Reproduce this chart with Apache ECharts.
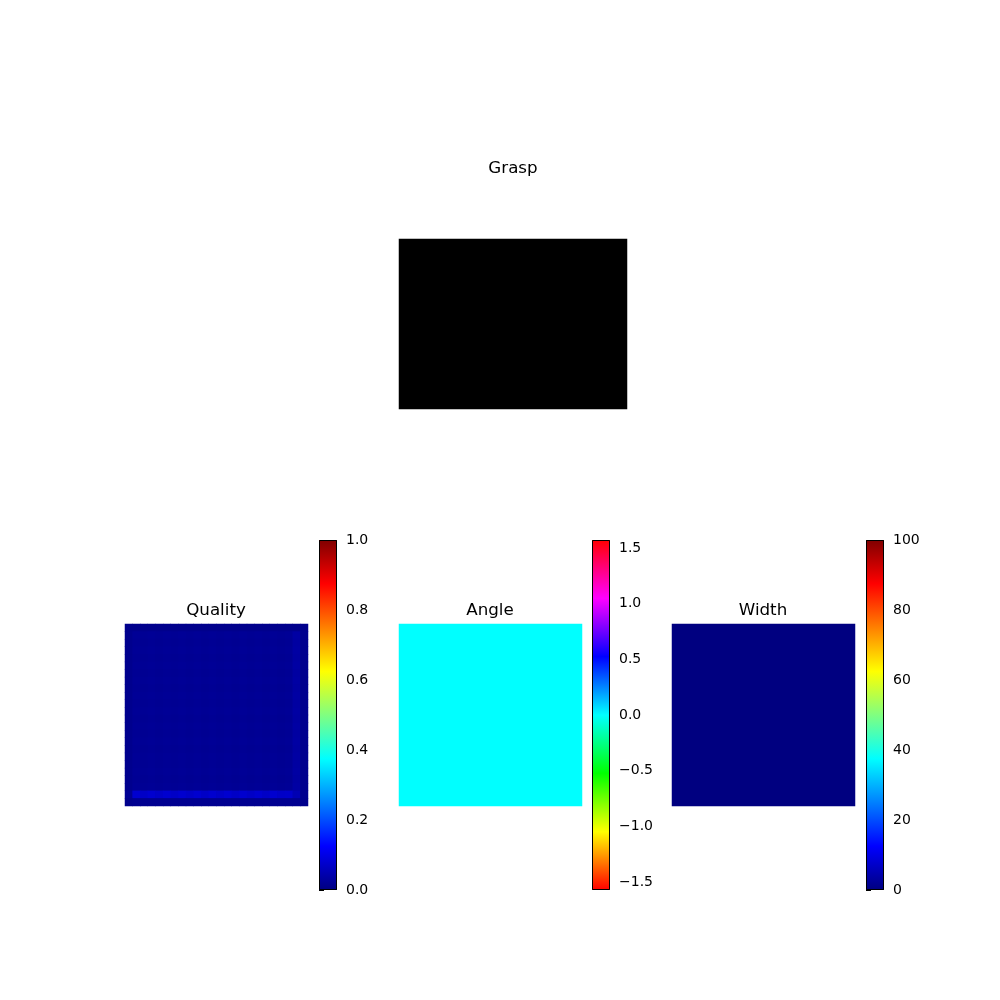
<!DOCTYPE html>
<html>
<head>
<meta charset="utf-8">
<script src="https://cdn.jsdelivr.net/npm/echarts@6/dist/echarts.min.js"></script>
<style>
  html, body { margin: 0; padding: 0; background: #fff; }
  #main { width: 1000px; height: 1000px; }
</style>
</head>
<body>
<div id="main"></div>
<script>
// panel titles
var titles = ['Grasp', 'Quality', 'Angle', 'Width'];

// grasp image (all black)
var graspGrid = [
  [0]
];

// quality map rows (24 x 24), mostly near zero with a faint brighter line near the bottom
var qTop = [0.012, 0.012, 0.012, 0.012, 0.012, 0.012, 0.012, 0.012, 0.012, 0.012, 0.012, 0.012, 0.012, 0.012, 0.012, 0.012, 0.012, 0.012, 0.012, 0.012, 0.012, 0.012, 0.012, 0.012];
var qRow = [0.014, 0.022, 0.020, 0.022, 0.020, 0.022, 0.020, 0.022, 0.020, 0.022, 0.020, 0.022, 0.020, 0.022, 0.020, 0.022, 0.020, 0.022, 0.020, 0.022, 0.020, 0.022, 0.034, 0.014];
var qRowB = [0.014, 0.020, 0.018, 0.020, 0.018, 0.020, 0.018, 0.020, 0.018, 0.020, 0.018, 0.020, 0.018, 0.020, 0.018, 0.020, 0.018, 0.020, 0.018, 0.020, 0.018, 0.020, 0.032, 0.014];
var qLine = [0.020, 0.078, 0.070, 0.078, 0.070, 0.078, 0.070, 0.078, 0.070, 0.078, 0.070, 0.078, 0.070, 0.078, 0.070, 0.078, 0.070, 0.078, 0.070, 0.078, 0.070, 0.072, 0.050, 0.014];
var qBottom = [0.012, 0.016, 0.016, 0.016, 0.016, 0.016, 0.016, 0.016, 0.016, 0.016, 0.016, 0.016, 0.016, 0.016, 0.016, 0.016, 0.016, 0.016, 0.016, 0.016, 0.016, 0.016, 0.016, 0.012];
var qualityGrid = [
  qTop, qRow, qRowB, qRow, qRowB, qRow, qRowB, qRow, qRowB, qRow, qRowB, qRow,
  qRowB, qRow, qRowB, qRow, qRowB, qRow, qRowB, qRow, qRowB, qRow, qLine, qBottom
];

// angle map (all zero -> cyan)
var angleGrid = [
  [0]
];

// width map (all zero -> navy)
var widthGrid = [
  [0]
];

// colorbar ranges and ticks
var qualityRange = [0, 1];
var qualityTicks = [0, 0.2, 0.4, 0.6, 0.8, 1.0];
var angleRange = [-Math.PI / 2, Math.PI / 2];
var angleTicks = [-1.5, -1.0, -0.5, 0.0, 0.5, 1.0, 1.5];
var widthRange = [0, 100];
var widthTicks = [0, 20, 40, 60, 80, 100];

var jet = ['#000080', '#0000ff', '#0080ff', '#00ffff', '#80ff80', '#ffff00', '#ff8000', '#ff0000', '#800000'];
var hsv = ['#ff0000', '#ffff00', '#00ff00', '#00ffff', '#0000ff', '#ff00ff', '#ff0000'];
var gray = ['#000000', '#ffffff'];

var FONT = 'DejaVu Sans';

function toCells(grid) {
  var out = [];
  for (var r = 0; r < grid.length; r++) {
    for (var c = 0; c < grid[r].length; c++) {
      out.push([c, r, grid[r][c]]);
    }
  }
  return out;
}

function idx(n) {
  var a = [];
  for (var i = 0; i < n; i++) a.push(i);
  return a;
}

function minusFmt(v, digits) {
  var s = Number(v).toFixed(digits);
  return s.replace('-', '\u2212');
}

function gradient(colors) {
  var stops = colors.map(function (c, i) {
    return { offset: i / (colors.length - 1), color: c };
  });
  return new echarts.graphic.LinearGradient(0, 1, 0, 0, stops);
}

var chart = echarts.init(document.getElementById('main'), null, { renderer: 'canvas' });

// image panels
var panels = [
  { grid: graspGrid, colors: gray, range: [0, 1], bg: '#000000', box: { left: 399, top: 239, width: 228, height: 170 } },
  { grid: qualityGrid, colors: jet, range: qualityRange, bg: '#000094', box: { left: 125, top: 624, width: 183, height: 182 } },
  { grid: angleGrid, colors: hsv, range: angleRange, bg: '#00ffff', box: { left: 399, top: 624, width: 183, height: 182 } },
  { grid: widthGrid, colors: jet, range: widthRange, bg: '#000080', box: { left: 672, top: 624, width: 183, height: 182 } }
];

// colorbars
var bars = [
  { colors: jet, range: qualityRange, ticks: qualityTicks, digits: 1, box: { left: 319, top: 540, width: 18, height: 350 } },
  { colors: hsv, range: angleRange, ticks: angleTicks, digits: 1, box: { left: 592, top: 540, width: 18, height: 350 } },
  { colors: jet, range: widthRange, ticks: widthTicks, digits: 0, box: { left: 866, top: 540, width: 18, height: 350 } }
];

var grids = [], xAxes = [], yAxes = [], series = [], visualMaps = [];

panels.forEach(function (p, i) {
  grids.push(Object.assign({ show: true, borderWidth: 0, backgroundColor: p.bg }, p.box));
  xAxes.push({ type: 'category', gridIndex: i, data: idx(p.grid[0].length), show: false });
  yAxes.push({ type: 'category', gridIndex: i, data: idx(p.grid.length), show: false, inverse: true });
  series.push({
    type: 'heatmap',
    xAxisIndex: i,
    yAxisIndex: i,
    data: toCells(p.grid),
    itemStyle: { borderWidth: 0 },
    emphasis: { disabled: true },
    silent: true
  });
  visualMaps.push({
    type: 'continuous',
    show: false,
    min: p.range[0],
    max: p.range[1],
    dimension: 2,
    seriesIndex: i,
    inRange: { color: p.colors }
  });
});

bars.forEach(function (b, j) {
  var gi = panels.length + j;
  grids.push(Object.assign({ show: false }, b.box));
  xAxes.push({ type: 'value', gridIndex: gi, min: 0, max: 1, show: false });
  yAxes.push({
    type: 'value',
    gridIndex: gi,
    position: 'right',
    min: b.range[0],
    max: b.range[1],
    axisLine: { show: false },
    axisTick: { show: true, inside: false, length: 5, lineStyle: { color: '#000', width: 1 }, customValues: b.ticks },
    axisLabel: {
      show: true, margin: 9, color: '#000', fontFamily: FONT, fontSize: 14,
      customValues: b.ticks,
      formatter: function (v) { return minusFmt(v, b.digits); }
    },
    splitLine: { show: false }
  });
  series.push({
    type: 'custom',
    xAxisIndex: gi,
    yAxisIndex: gi,
    silent: true,
    clip: false,
    data: [[0, b.range[0]]],
    renderItem: function (params, api) {
      var cs = params.coordSys;
      return {
        type: 'group',
        children: [
          {
            type: 'rect',
            shape: { x: cs.x, y: cs.y, width: cs.width, height: cs.height },
            style: { fill: gradient(b.colors) }
          },
          {
            type: 'rect',
            shape: { x: cs.x + 0.5, y: cs.y + 0.5, width: cs.width - 1, height: cs.height - 1 },
            style: { fill: 'none', stroke: '#000', lineWidth: 1 }
          }
        ]
      };
    }
  });
});

var titlePos = [[513, 177], [216, 619], [490, 619], [763, 619]];
var graphics = titles.map(function (t, i) {
  return {
    type: 'text',
    x: titlePos[i][0],
    y: titlePos[i][1],
    style: {
      text: t,
      fill: '#000',
      font: '16.7px "' + FONT + '"',
      textAlign: 'center',
      textVerticalAlign: 'bottom'
    }
  };
});

chart.setOption({
  backgroundColor: '#fff',
  animation: false,
  grid: grids,
  xAxis: xAxes,
  yAxis: yAxes,
  visualMap: visualMaps,
  series: series,
  graphic: graphics
});
</script>
</body>
</html>
